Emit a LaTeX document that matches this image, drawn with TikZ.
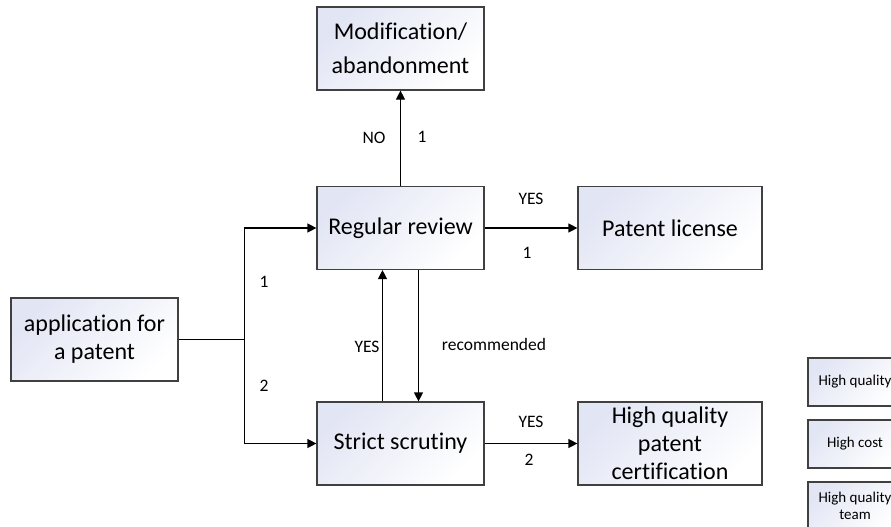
\documentclass[tikz,border=0pt]{standalone}
\usepackage{fontspec}
\setmainfont{Carlito}[Ligatures=NoCommon]
\usetikzlibrary{arrows.meta}
\definecolor{boxfill}{RGB}{226,229,244}
\definecolor{boxline}{RGB}{64,64,64}

\begin{document}
\begin{tikzpicture}[x=1pt, y=-1pt,
    box/.style={draw=boxline, line width=1.2pt, top color=boxfill, bottom color=white,
                shading angle=45, align=center, inner sep=2pt,
                minimum width=167pt, minimum height=83pt, font=\fontsize{24}{28}\selectfont},
    wide/.style={box, minimum width=184pt},
    small/.style={box, minimum width=94pt, minimum height=48pt, font=\fontsize{15}{17}\selectfont},
    tag/.style={font=\fontsize{17.5}{20}\selectfont, inner sep=0pt},
    arr/.style={-{Triangle[length=9pt,width=9pt]}, line width=1.2pt}]
    \useasboundingbox (0,0) rectangle (891,527);
    \clip (0,0) rectangle (891,527);

    % main boxes
    \node[box] (modif) at (400.5,48.5) {Modification/\\[6pt]abandonment};
    \node[box] (review) at (400.5,228) {Regular review};
    \node[box] (apply) at (94.5,339.5) {application for\\a patent};
    \node[box] (strict) at (400.5,443.5) {Strict scrutiny};
    \node[wide] (license) at (670,228) {Patent license};
    \node[wide] (hqcert) at (670,443.5) {High quality\\patent\\certification};

    % side boxes, cut by the right edge
    \node[small] (hq) at (855,382) {High quality};
    \node[small] (cost) at (855,444) {High cost};
    \node[small] (team) at (855,506) {High quality\\team};

    % connectors
    \coordinate (split) at ([xshift=66pt]apply.east);
    \draw[line width=1.2pt] (apply.east) -- (split);
    \draw[arr] (split) |- (review.west);
    \draw[arr] (split) |- (strict.west);
    \draw[arr] (review.north) -- (modif.south);
    \draw[arr] (review.east) -- (license.west);
    \draw[arr] (strict.east) -- (hqcert.west);
    \draw[arr] ([xshift=-18pt]strict.north) -- ([xshift=-18pt]review.south);
    \draw[arr] ([xshift=18pt]review.south) -- ([xshift=18pt]strict.north);

    % labels
    \node[tag] (up1) at (264,282) {1};
    \node[tag] (down2) at (264,386) {2};
    \node[tag] (no) at (374,138) {NO};
    \node[tag] (no1) at (422,137) {1};
    \node[tag] (yes1) at (531,199) {YES};
    \node[tag] (lic1) at (527,253) {1};
    \node[tag] (yesup) at (367,347) {YES};
    \node[tag] (recom) at (494,344) {recommended};
    \node[tag] (yes2) at (531,422) {YES};
    \node[tag] (cert2) at (529,460) {2};
\end{tikzpicture}
\end{document}
